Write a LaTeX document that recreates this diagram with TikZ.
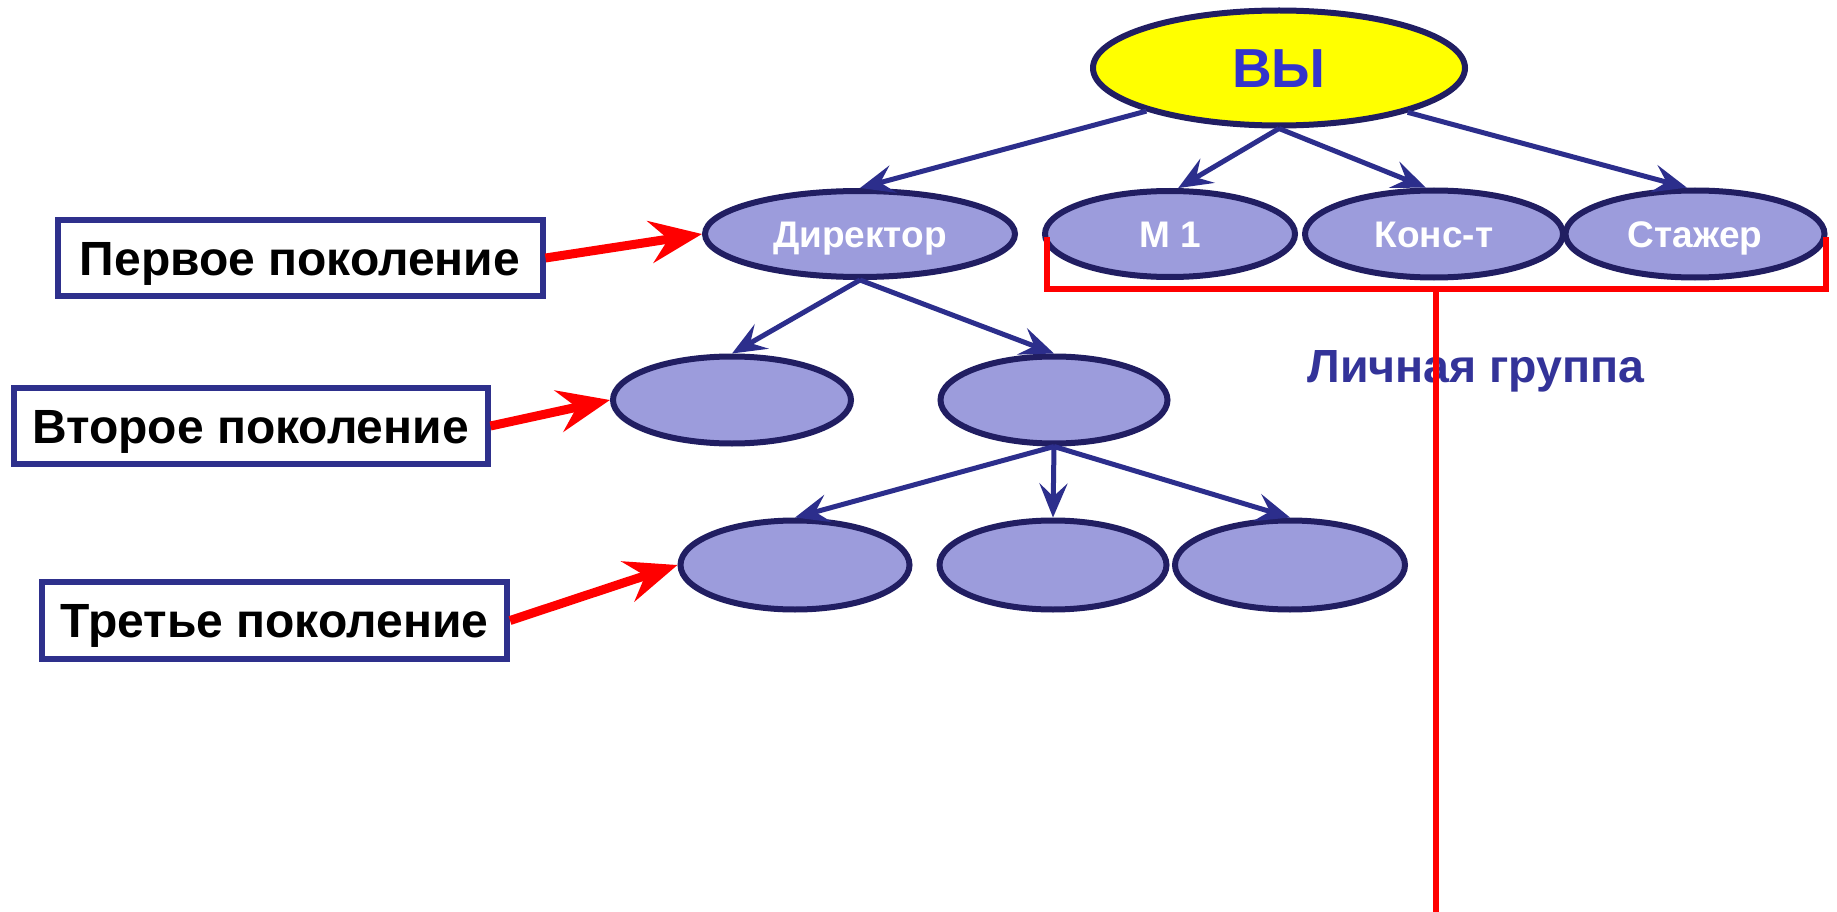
\documentclass[tikz,border=0pt]{standalone}
\usepackage{fontspec}
\setmainfont{Liberation Sans}
\usetikzlibrary{arrows.meta,shapes.geometric}
\definecolor{ellline}{RGB}{33,30,98}
\definecolor{ellfill}{RGB}{156,156,220}
\definecolor{connblue}{RGB}{44,46,140}
\definecolor{boxline}{RGB}{46,48,140}
\definecolor{vytext}{RGB}{51,51,204}
\definecolor{grouptext}{RGB}{51,51,153}
\definecolor{vyfill}{RGB}{255,255,0}
\begin{document}
\begin{tikzpicture}[x=1pt,y=-1pt,
  ell/.style={ellipse, draw=ellline, line width=6pt, fill=ellfill, inner sep=0pt, text=white,
    font=\fontsize{37}{42}\selectfont\bfseries, text height=26.5pt, text depth=0pt},
  genbox/.style={rectangle, draw=boxline, line width=6pt, fill=white, inner sep=0pt,
    font=\fontsize{48}{54}\selectfont\bfseries, text height=34.4pt, text depth=0pt},
  conn/.style={draw=connblue, line width=5pt, -{Stealth[length=34pt,width=28pt,inset=13pt]}},
  redarrow/.style={draw=red, line width=9pt, -{Stealth[length=52pt,width=42pt,inset=18pt]}},
  bracket/.style={draw=red, line width=5.5pt},
]
\useasboundingbox[fill=white] (0,0) rectangle (1837,912);

% top node
\node[ell, fill=vyfill, text=vytext, minimum width=372pt, minimum height=115pt,
  font=\fontsize{55}{60}\selectfont\bfseries, text height=39.4pt] (vy) at (1279,68) {ВЫ};

% first generation row
\node[ell, minimum width=310pt, minimum height=86pt] (dir) at (860,234) {Директор};
\node[ell, minimum width=250pt, minimum height=86pt] (m1) at (1170,234) {М 1};
\node[ell, minimum width=258pt, minimum height=87pt] (kons) at (1434,234) {Конс-т};
\node[ell, minimum width=259pt, minimum height=87pt] (staz) at (1695,234) {Стажер};

% second generation
\node[ell, minimum width=238pt, minimum height=87pt] (s1) at (732,400) {};
\node[ell, minimum width=227pt, minimum height=87pt] (s2) at (1054,400) {};

% third generation
\node[ell, minimum width=229pt, minimum height=89pt] (t1) at (795,565) {};
\node[ell, minimum width=227pt, minimum height=89pt] (t2) at (1053,565) {};
\node[ell, minimum width=230pt, minimum height=89pt] (t3) at (1290,565) {};

% generation boxes
\node[genbox, minimum width=485pt, minimum height=76pt] (b1) at (300,258) {Первое поколение};
\node[genbox, minimum width=474pt, minimum height=76pt] (b2) at (250.5,426) {Второе поколение};
\node[genbox, minimum width=465pt, minimum height=77pt] (b3) at (274.5,620.5) {Третье поколение};

% blue connectors
\draw[conn] (vy.198.6) -- (dir.north);
\draw[conn] (vy.south) -- (m1.80);
\draw[conn] (vy.south) -- (kons.100);
\draw[conn] (vy.341.6) -- (staz.100);
\draw[conn] (dir.south) -- (s1.north);
\draw[conn] (dir.south) -- (s2.north);
\draw[conn] (s2.south) -- (t1.north);
\draw[conn] (s2.south) -- (t2.north);
\draw[conn] (s2.south) -- (t3.north);

% red arrows
\draw[redarrow] (b1.east) -- (dir.west);
\draw[redarrow] (b2.east) -- (s1.west);
\draw[redarrow] (b3.east) -- (t1.west);

% personal group label
\node[font=\fontsize{46.5}{52}\selectfont\bfseries, text=grouptext, anchor=base, inner sep=0pt] (lg) at (1476,382) {Личная группа};

% red bracket
\coordinate (bl) at (1047,237);
\coordinate (bll) at (1047,289);
\coordinate (brr) at (1826,289);
\coordinate (br) at (1826,237);
\coordinate (bm) at (1436,289);
\coordinate (bend) at (1436,912);
\draw[bracket] (bl) -- (bll) -- (brr) -- (br);
\draw[bracket] (bm) -- (bend);
\end{tikzpicture}
\end{document}
